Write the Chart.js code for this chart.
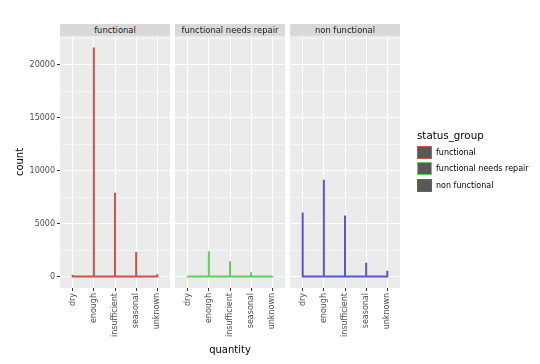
<!DOCTYPE html>
<html><head><meta charset="utf-8">
<script src="https://cdn.jsdelivr.net/npm/chart.js@4"></script>
<style>
html,body{margin:0;padding:0;background:#fff;}
body{width:540px;height:364px;overflow:hidden;position:relative;font-family:"DejaVu Sans",sans-serif;}
canvas{position:absolute;left:0;top:0;}
.strip{position:absolute;top:24px;height:12px;background:#d9d9d9;color:#1a1a1a;font-size:8.4px;line-height:12px;text-align:center;white-space:nowrap;}
#legend{position:absolute;left:417px;top:128px;color:#000;}
#legend .t{font-size:10.3px;line-height:14px;margin-bottom:2px;}
#legend .it{display:flex;align-items:center;height:16.5px;font-size:8px;}
#legend .k{display:block;flex:none;width:13px;height:11px;background:#595959;border:1.5px solid #000;margin-right:4px;box-sizing:content-box;}
</style>
</head><body>
<canvas id="c0" width="540" height="364"></canvas>
<canvas id="c1" width="540" height="364"></canvas>
<canvas id="c2" width="540" height="364"></canvas>
<div class="strip" id="s0"></div>
<div class="strip" id="s1"></div>
<div class="strip" id="s2"></div>
<div id="legend"></div>
<script>
const categories = ['dry','enough','insufficient','seasonal','unknown'];
const panelNames = ['functional','functional needs repair','non functional'];
const functional = [157, 21648, 7916, 2325, 213];
const functionalNeedsRepair = [37, 2400, 1450, 416, 35];
const nonFunctional = [6052, 9138, 5763, 1309, 541];
const yTicks = [0, 2500, 5000, 7500, 10000, 12500, 15000, 17500, 20000, 22500];
const seriesColors = ['#cc544c', '#5fcf5f', '#5a56d2'];
const series = [functional, functionalNeedsRepair, nonFunctional];

const FONT = 'DejaVu Sans';
const panelLeft = [60, 175, 290];
const panelW = 110;
const yMax = Math.max(...functional, ...functionalNeedsRepair, ...nonFunctional);
const yPad = yMax * 0.05;

const bg = {id:'bg', beforeDraw(chart){const a=chart.chartArea;const c=chart.ctx;c.save();c.fillStyle='#ebebeb';c.fillRect(a.left,a.top,a.right-a.left,a.bottom-a.top);c.restore();}};

series.forEach((vals,k)=>{
  const pts=[];
  vals.forEach((v,i)=>{pts.push({x:i,y:0},{x:i,y:v},{x:i,y:0});});
  const first = k===0;
  new Chart(document.getElementById('c'+k),{
    type:'line',
    data:{datasets:[{data:pts,borderColor:seriesColors[k],borderWidth:2,pointRadius:0,tension:0,fill:false}]},
    options:{
      animation:false,responsive:false,
      layout:{padding:{left:first?0:panelLeft[k],right:540-panelLeft[k]-panelW,top:36,bottom:0}},
      plugins:{legend:{display:false},tooltip:{enabled:false}},
      scales:{
        x:{type:'linear',min:-0.6,max:categories.length-0.4,
          afterBuildTicks:s=>{s.ticks=categories.map((c,i)=>({value:i}));},
          afterFit:s=>{s.height=76;},
          border:{display:false},
          grid:{color:'#ffffff',lineWidth:1,tickLength:3,tickColor:'#333333',drawTicks:true},
          ticks:{autoSkip:false,minRotation:90,maxRotation:90,padding:2,color:'#4d4d4d',font:{family:FONT,size:8},callback:v=>categories[v]},
          title:{display:k===1,text:'quantity',color:'#000',font:{family:FONT,size:10},padding:{top:0,bottom:8}}
        },
        y:{min:-yPad,max:yMax+yPad,
          afterBuildTicks:s=>{s.ticks=yTicks.map(v=>({value:v}));},
          afterFit:s=>{s.width=first?60:0;},
          border:{display:false},
          grid:{color:'#ffffff',lineWidth:c=>(c.tick&&c.tick.value%5000)?0.5:1,drawTicks:first,tickLength:3,
                tickColor:c=>(c.tick&&c.tick.value%5000===0)?'#333333':'rgba(0,0,0,0)'},
          ticks:{display:first,padding:2,color:'#4d4d4d',font:{family:FONT,size:8},callback:v=>(v%5000===0?String(v):'')},
          title:{display:first,text:'count',color:'#000',font:{family:FONT,size:10},padding:{top:14,bottom:0}}
        }
      }
    },
    plugins:[bg]
  });
  const s=document.getElementById('s'+k);
  s.style.left=panelLeft[k]+'px';s.style.width=panelW+'px';s.textContent=panelNames[k];
});

const lg=document.getElementById('legend');
const t=document.createElement('div');t.className='t';t.textContent='status_group';lg.appendChild(t);
panelNames.forEach((n,k)=>{
  const it=document.createElement('div');it.className='it';
  const key=document.createElement('span');key.className='k';key.style.borderColor=seriesColors[k];
  const lab=document.createElement('span');lab.textContent=n;
  it.appendChild(key);it.appendChild(lab);lg.appendChild(it);
});
</script>
</body></html>
